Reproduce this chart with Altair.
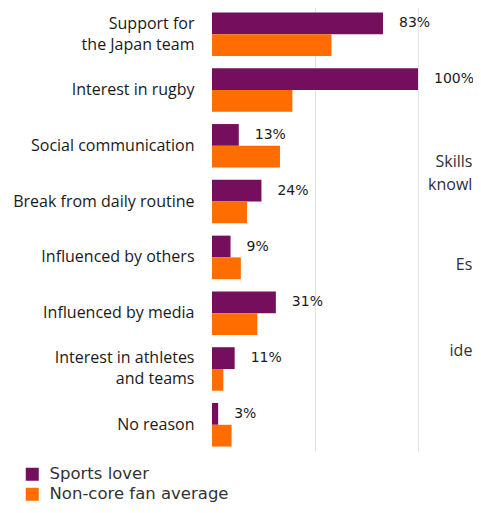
import altair as alt
import pandas as pd

categories = ["Support for\nthe Japan team", "Interest in rugby", "Social communication",
              "Break from daily routine", "Influenced by others", "Influenced by media",
              "Interest in athletes\nand teams", "No reason"]
sports_lover = [83, 100, 13, 24, 9, 31, 11, 3]
non_core = [58, 39, 33, 17, 14, 22, 5.5, 9.5]
series = ["Sports lover", "Non-core fan average"]
colors = ["#750E5C", "#FF6D00"]

# fragments of the neighbouring panel's labels, visible at the right edge
neighbor_text = ["Skills", "knowl", "Es", "ide"]
neighbor_x = [126.4, 126.4, 126.4, 126.4]
neighbor_y = [154, 177, 257, 343]

rows = []
for c, a, b in zip(categories, sports_lover, non_core):
    rows.append({"cat": c, "series": series[0], "value": a, "label": f"{a}%"})
    rows.append({"cat": c, "series": series[1], "value": b, "label": ""})
df = pd.DataFrame(rows)
nb = pd.DataFrame({"t": neighbor_text, "x": neighbor_x, "yy": neighbor_y})

xscale = alt.Scale(domain=[0, 126.7], nice=False, zero=True)
yscale = alt.Scale(paddingInner=0.22, paddingOuter=0.08)

base = alt.Chart(df)
bars = base.mark_bar(stroke=None).encode(
    y=alt.Y("cat:N", sort=categories, scale=yscale,
            axis=alt.Axis(title=None, ticks=False, domain=False, labelPadding=18,
                          labelFontSize=16, labelFont="Open Sans", labelColor="#1a1a1a",
                          labelLimit=300, labelLineHeight=21,
                          labelOffset={"condition": {"test": "indexof(datum.label, '\\n') >= 0",
                                                     "value": -10.5}, "value": 0},
                          labelExpr="split(datum.label, '\\n')")),
    yOffset=alt.YOffset("series:N", sort=series),
    x=alt.X("value:Q", scale=xscale,
            axis=alt.Axis(title=None, labels=False, ticks=False, domain=False,
                          grid=True, values=[50, 100], gridColor="#E3E3E3")),
    color=alt.Color("series:N", sort=series,
                    scale=alt.Scale(domain=series, range=colors),
                    legend=alt.Legend(title=None, orient="none", legendX=-188, legendY=458,
                                      symbolType="square", symbolSize=169, symbolStrokeWidth=0,
                                      labelFontSize=16.5, labelFont="DejaVu Sans", labelLimit=300,
                                      labelColor="#333333", rowPadding=3, labelOffset=9)),
)
labels = base.transform_filter(alt.datum.label != "").mark_text(
    align="left", baseline="middle", dx=16, fontSize=14, font="DejaVu Sans", color="#1a1a1a"
).encode(
    y=alt.Y("cat:N", sort=categories, scale=yscale),
    yOffset=alt.YOffset("series:N", sort=series),
    x=alt.X("value:Q", scale=xscale),
    text="label:N",
)
neighbor = alt.Chart(nb).mark_text(
    align="right", baseline="middle", fontSize=16, font="Open Sans", color="#2E2E38"
).encode(
    x=alt.X("x:Q", scale=xscale),
    y=alt.Y("yy:Q", scale=None),
    text="t:N",
)

chart = alt.layer(bars, labels, neighbor).properties(
    width=261, height=443,
    autosize=alt.AutoSizeParams(type="none"),
    padding={"left": 204, "top": 0, "right": 0, "bottom": 54},
).configure_view(stroke=None)

chart.save("out.html", embed_options={"renderer": "svg", "actions": False})
